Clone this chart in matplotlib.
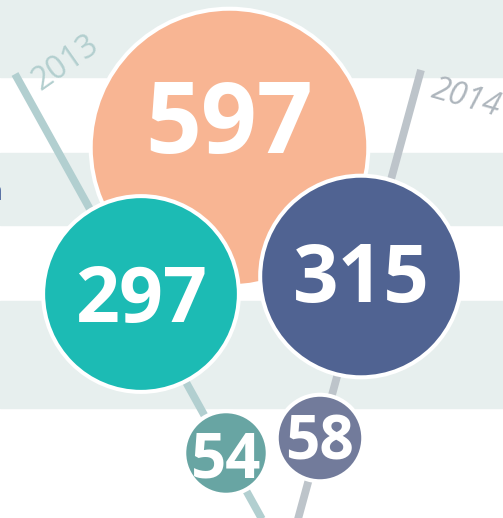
import numpy as np
import matplotlib
matplotlib.use("Agg")
import matplotlib.pyplot as plt
from matplotlib.patches import Circle

# bubble values
values = [597, 297, 315, 54, 58]
labels = ["597", "297", "315", "54", "58"]
colors = ["#f8b593", "#1cbbb4", "#506392", "#68a5a3", "#727b9b"]

# layout (pixel space of the 503x518 picture)
centers_x = [229.5, 141, 361, 226, 320]
centers_y = [147.5, 294, 276.5, 453, 438]
baseline_y = [153, 322, 302, 477, 460]
label_px = [70, 55, 57, 44, 43]

years = ["2013", "2014"]
year_line_x = [(15, 268), (421, 295)]
year_line_y = [(74, 530), (70, 530)]
year_line_colors = ["#b2cfd0", "#bdc4ca"]
year_text_colors = ["#b3cfcf", "#aeb6bd"]
year_text_pos = [(66, 63), (466, 99)]
year_text_rot = [35, -16]
year_text_style = ["normal", "italic"]

bands = [(0, 77), (153, 225), (301, 408)]

W, H = 503, 518
fig = plt.figure(figsize=(W / 100, H / 100), dpi=100)
ax = fig.add_axes([0, 0, 1, 1])
ax.set_xlim(0, W)
ax.set_ylim(H, 0)
ax.axis("off")

for y0, y1 in bands:
    ax.axhspan(y0, y1, color="#e7efee", zorder=0)

# label cut off by the left edge: only its last stroke shows
ax.text(3, 200, "n", ha="right", va="baseline", color="#2d4b8e",
        fontsize=20, family="Open Sans", zorder=1, clip_on=True)

for xs, ys, c in zip(year_line_x, year_line_y, year_line_colors):
    ax.plot(xs, ys, color=c, lw=5.6, solid_capstyle="butt", zorder=1)

for t, (tx, ty), c, rot, st in zip(years, year_text_pos, year_text_colors,
                                    year_text_rot, year_text_style):
    ax.text(tx, ty, t, color=c, fontsize=23, rotation=rot, style=st,
            ha="center", va="center", family="Open Sans",
            rotation_mode="anchor", zorder=1)

k = 5.68
for i, v in enumerate(values):
    r = k * np.sqrt(v)
    circ = Circle((centers_x[i], centers_y[i]), r, facecolor=colors[i],
                  edgecolor="white", lw=2.9, zorder=2 + i)
    ax.add_patch(circ)
    ax.text(centers_x[i], baseline_y[i], labels[i], color="white",
            fontsize=label_px[i] / 0.714 * 0.72, fontweight="bold",
            family="Open Sans", ha="center", va="baseline", zorder=2 + i)

fig.savefig("out.png", dpi=100)
